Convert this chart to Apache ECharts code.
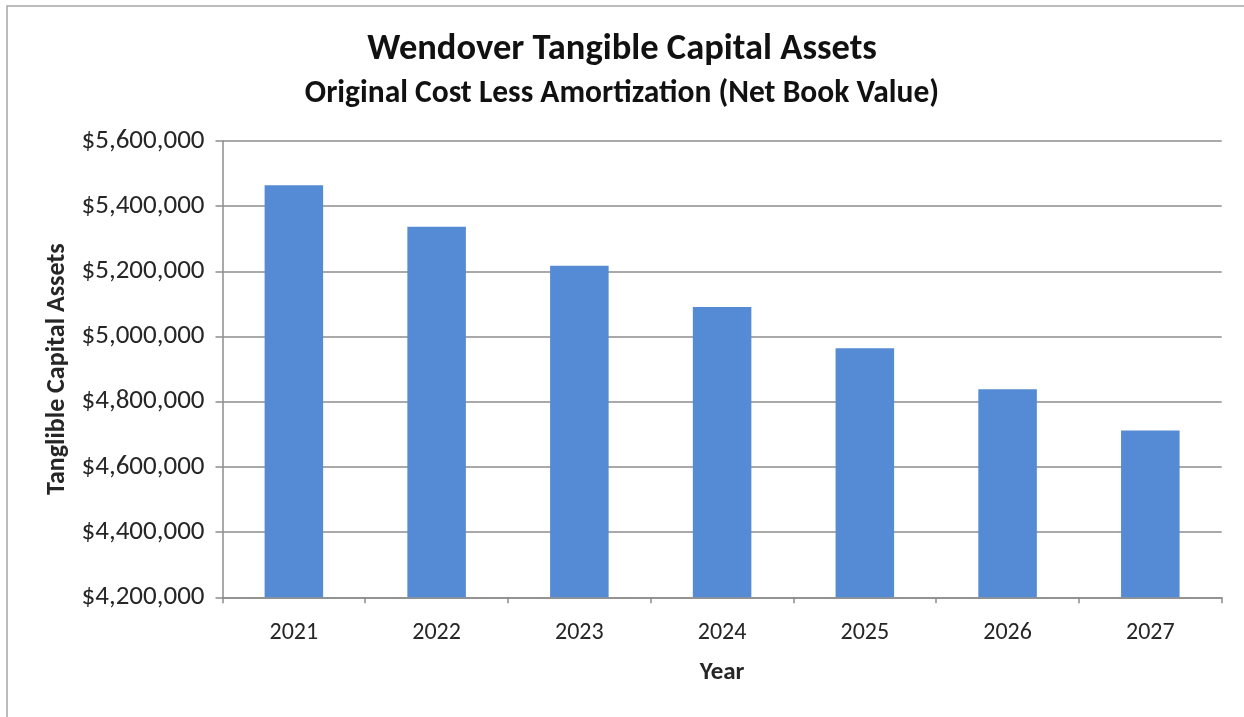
<!DOCTYPE html>
<html>
<head>
<meta charset="utf-8">
<script src="https://cdn.jsdelivr.net/npm/echarts@6/dist/echarts.min.js"></script>
<style>
  html, body { margin: 0; padding: 0; background: #ffffff; }
  #chart { width: 1244px; height: 717px; }
</style>
</head>
<body>
<div id="chart"></div>
<script>
// Net book value of tangible capital assets by year
const years = ['2021', '2022', '2023', '2024', '2025', '2026', '2027'];
const netBookValue = [5464000, 5337000, 5217000, 5091000, 4964000, 4838000, 4712000];

const titleText = 'Wendover Tangible Capital Assets';
const subtitleText = 'Original Cost Less Amortization (Net Book Value)';
const yAxisName = 'Tanglible Capital Assets';
const xAxisName = 'Year';

const FONT = 'Carlito, Lato, sans-serif';
const TEXT = '#262626';
const LINE = '#8c8c8c';

const chart = echarts.init(document.getElementById('chart'), null, { renderer: 'canvas' });

chart.setOption({
  backgroundColor: '#ffffff',
  animation: false,
  graphic: [{
    type: 'rect',
    shape: { x: 7, y: 6, width: 1250, height: 730 },
    style: { fill: 'none', stroke: '#a6a6a6', lineWidth: 1.5 },
    silent: true
  }],
  title: [
    {
      text: titleText,
      left: 'center',
      top: 31,
      padding: 0,
      textStyle: { fontFamily: FONT, fontWeight: 'bold', fontSize: 36.5, color: '#111111' }
    },
    {
      text: subtitleText,
      left: 'center',
      top: 78,
      padding: 0,
      textStyle: { fontFamily: FONT, fontWeight: 'bold', fontSize: 31.5, color: '#111111' }
    }
  ],
  grid: { left: 222.5, right: 22.3, top: 141, bottom: 119.7, containLabel: false },
  xAxis: {
    type: 'category',
    data: years,
    name: xAxisName,
    nameLocation: 'middle',
    nameGap: 63,
    nameTextStyle: { fontFamily: FONT, fontWeight: 'bold', fontSize: 25, color: TEXT },
    axisLine: { lineStyle: { color: LINE, width: 1.5 } },
    axisTick: { show: true, length: 6, alignWithLabel: false, lineStyle: { color: LINE, width: 1.5 } },
    axisLabel: { margin: 24, fontFamily: FONT, fontSize: 24, color: TEXT },
    splitLine: { show: false }
  },
  yAxis: {
    type: 'value',
    min: 4200000,
    max: 5600000,
    interval: 200000,
    name: yAxisName,
    nameLocation: 'middle',
    nameGap: 152,
    nameRotate: 90,
    nameTextStyle: { fontFamily: FONT, fontWeight: 'bold', fontSize: 26, color: TEXT },
    axisLine: { show: true, lineStyle: { color: LINE, width: 1.5 } },
    axisTick: { show: true, length: 7, lineStyle: { color: LINE, width: 1.5 } },
    axisLabel: {
      margin: 18,
      fontFamily: FONT,
      fontSize: 27,
      color: TEXT,
      formatter: v => '$' + v.toLocaleString('en-US')
    },
    splitLine: { show: true, lineStyle: { color: LINE, width: 1.5 } }
  },
  series: [{
    type: 'bar',
    data: netBookValue,
    barCategoryGap: '59%',
    itemStyle: { color: '#548bd4' },
    emphasis: { disabled: true }
  }]
});
</script>
</body>
</html>
